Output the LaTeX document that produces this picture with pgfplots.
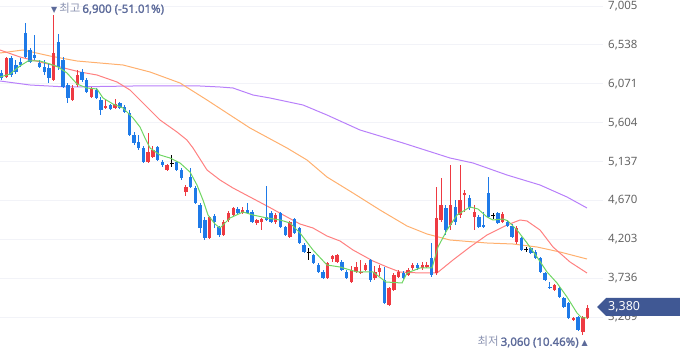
\documentclass[border=0pt]{standalone}
\usepackage{fontspec}
\setmainfont{Noto Sans}
\newfontfamily\kr{Noto Sans CJK KR}
\newfontfamily\bnum{Noto Sans}[FakeBold=1.6]
\newfontfamily\sym{DejaVu Sans}
\usepackage{pgfplots}
\usepackage{pgfplotstable}
\pgfplotsset{compat=1.18}
\definecolor{cred}{RGB}{238,58,66}
\definecolor{cblue}{RGB}{30,122,232}
\definecolor{ma5}{RGB}{112,214,100}
\definecolor{ma20}{RGB}{255,128,128}
\definecolor{ma60}{RGB}{255,176,110}
\definecolor{ma120}{RGB}{184,128,250}
\definecolor{gridc}{RGB}{242,243,248}
\definecolor{tickc}{RGB}{100,100,100}
\definecolor{navy}{RGB}{64,88,148}
\definecolor{lblc}{RGB}{92,106,154}
\definecolor{lblc2}{RGB}{140,148,178}

\pgfplotstableread{
i o h l c
0 6201 6237 6117 6141
1 6153 6393 6141 6381
2 6381 6405 6153 6177
3 6297 6357 6189 6213
4 6333 6381 6273 6297
5 6681 6801 6381 6393
6 6477 6501 6321 6333
7 6417 6657 6357 6381
8 6321 6357 6261 6273
9 6273 6357 6177 6213
10 6261 6321 6081 6141
11 6117 6900 6110 6441
12 6573 6669 6237 6273
13 6357 6393 6021 6033
14 6057 6081 5841 5901
15 5877 6057 5865 6021
16 6057 6237 6033 6177
17 6213 6249 6093 6117
18 6117 6141 5961 5973
19 5913 6033 5901 6021
20 5997 6021 5889 5901
21 5877 5913 5697 5757
22 5781 5877 5769 5805
23 5817 5829 5757 5769
24 5781 5889 5769 5829
25 5841 5853 5769 5781
26 5793 5817 5721 5733
27 5721 5757 5445 5457
28 5457 5493 5337 5361
29 5373 5457 5277 5301
30 5301 5325 5121 5133
31 5133 5481 5121 5253
32 5193 5325 5181 5277
33 5313 5325 5145 5157
34 5133 5157 5073 5097
35 5037 5109 5025 5097
36 5115 5217 5073 5115
37 5133 5145 5025 5037
38 5037 5061 4917 4941
39 4773 4857 4725 4833
40 4953 5061 4821 4833
41 4821 4845 4629 4641
42 4617 4641 4281 4341
43 4437 4473 4197 4221
44 4221 4485 4209 4473
45 4485 4509 4341 4413
46 4353 4365 4233 4257
47 4257 4437 4245 4413
48 4437 4545 4413 4521
49 4497 4593 4485 4581
50 4569 4593 4509 4521
51 4521 4593 4509 4557
52 4557 4641 4509 4521
53 4533 4557 4401 4413
54 4401 4449 4377 4437
55 4413 4461 4317 4449
56 4473 4845 4425 4437
57 4521 4545 4401 4413
58 4413 4521 4389 4497
59 4521 4533 4341 4353
60 4353 4365 4245 4257
61 4233 4425 4221 4413
62 4449 4461 4269 4281
63 4341 4353 4149 4161
64 4137 4161 4041 4053
65 4050 4101 3957 4050
66 4017 4029 3909 3921
67 3897 3921 3801 3813
68 3813 3837 3729 3741
69 3741 3933 3729 3921
70 3969 4017 3933 4005
71 3933 4029 3921 4017
72 3933 3957 3825 3837
73 3813 3837 3729 3741
74 3693 3885 3681 3837
75 3813 3933 3801 3873
76 3801 3957 3789 3813
77 3837 3921 3825 3897
78 3957 3969 3693 3717
79 3741 3885 3717 3813
80 3813 3897 3765 3861
81 3717 3873 3429 3441
82 3417 3633 3405 3621
83 3597 3801 3585 3777
84 3753 3837 3741 3813
85 3801 3825 3729 3741
86 3777 3861 3765 3837
87 3861 3921 3837 3897
88 3897 3921 3837 3861
89 3861 3933 3837 3897
90 3873 3933 3861 3897
91 3981 4161 3753 3777
92 3801 4833 3777 4461
93 4437 4941 4413 4617
94 4581 4617 4257 4317
95 4377 5097 4317 4617
96 4593 4677 4377 4413
97 4497 5097 4461 4677
98 4737 4797 4533 4761
99 4701 4737 4557 4581
100 4473 4617 4317 4533
101 4473 4497 4341 4353
102 4377 4533 4341 4353
103 4761 4953 4461 4473
104 4490 4521 4449 4490
105 4521 4533 4389 4401
106 4413 4533 4401 4509
107 4413 4437 4353 4365
108 4365 4389 4221 4233
109 4173 4365 4149 4341
110 4221 4233 4065 4077
111 4083 4113 4053 4083
112 4101 4113 4029 4041
113 4053 4077 3969 3981
114 3981 3993 3801 3813
115 3801 3813 3705 3717
116 3633 3693 3609 3621
117 3597 3669 3585 3657
118 3621 3633 3501 3513
119 3501 3513 3381 3393
120 3441 3453 3249 3261
121 3237 3273 3225 3261
122 3273 3285 3105 3117
123 3093 3285 3060 3273
124 3261 3417 3249 3380
}\candles

\begin{document}
\begin{tikzpicture}
\path[use as bounding box] (0,0) rectangle (680bp,358bp);
\begin{axis}[
  at={(0,0)}, anchor=south west, scale only axis,
  width=603bp, height=358bp,
  xmin=-0.36, xmax=127.26, ymin=2781, ymax=7077,
  axis line style={draw=none},
  major tick length=0pt,
  xtick=\empty,
  ytick={3269,3736,4203,4670,5137,5604,6071,6538,7005},
  yticklabel pos=right,
  ymajorgrids,
  grid style={draw=gridc, line width=0.9bp},
  scaled y ticks=false,
  yticklabel style={font=\fontsize{11.5}{13}\selectfont, text=tickc, anchor=west, inner sep=0pt, xshift=5bp,
    /pgf/number format/1000 sep={,}, /pgf/number format/assume math mode=true},
]
% moving averages
\addplot[ma120, line width=1bp] coordinates {(-0.36,6105) (5.99,6057) (13.82,6033) (27.79,6045) (41.97,6045) (46.2,6033) (48.95,6021) (53.19,5937) (56.78,5901) (63.77,5817) (68.84,5697) (75.83,5517) (84.93,5361) (94.88,5181) (99.75,5121) (106.94,4977) (113.93,4857) (119.64,4713) (123.87,4581)};
\addplot[ma60, line width=1bp] coordinates {(-0.36,6441) (4.51,6477) (10.22,6405) (15.94,6345) (20.8,6321) (25.67,6297) (31.39,6213) (37.74,6081) (43.45,5877) (48.32,5697) (52.55,5541) (60.38,5301) (64.61,5157) (68.84,4953) (74.35,4761) (80.06,4557) (85.78,4365) (90.01,4269) (94.88,4197) (102.71,4161) (108.21,4149) (113.29,4113) (118.16,4053) (123.87,3969)};
\addplot[ma20, line width=1bp] coordinates {(-0.36,6477) (3.87,6393) (8.11,6333) (12.34,6273) (16.57,6213) (20.17,6177) (24.4,6093) (27.15,5997) (29.9,5841) (33.5,5637) (37.1,5493) (39.2,5397) (40.49,5301) (43.45,5037) (46.2,4917) (48.95,4821) (52.55,4713) (56.15,4605) (60.38,4473) (63.13,4389) (65.88,4341) (68.84,4245) (71.6,4185) (74.35,4077) (78.58,3945) (81.55,3873) (84.3,3813) (88.53,3801) (92.13,3801) (95.51,3957) (99.11,4113) (102.71,4257) (106.94,4377) (109.7,4437) (111.18,4425) (113.93,4317) (116.68,4113) (120.28,3933) (123.87,3801)};
% candles: wicks
\addplot[draw=none, mark=none, forget plot,
  restrict expr to domain={\thisrow{c}-\thisrow{o}}{1:100000},
  error bars/.cd, y dir=plus, y explicit, error mark=none,
  error bar style={line width=1bp, draw=cred}]
  table[x=i, y=l, y error plus expr=\thisrow{h}-\thisrow{l}] {\candles};
\addplot[draw=none, mark=none, forget plot,
  restrict expr to domain={\thisrow{c}-\thisrow{o}}{-100000:-1},
  error bars/.cd, y dir=plus, y explicit, error mark=none,
  error bar style={line width=1bp, draw=cblue}]
  table[x=i, y=l, y error plus expr=\thisrow{h}-\thisrow{l}] {\candles};
\addplot[draw=none, mark=none, forget plot,
  restrict expr to domain={\thisrow{c}-\thisrow{o}}{-0.5:0.5},
  error bars/.cd, y dir=plus, y explicit, error mark=none,
  error bar style={line width=1bp, draw=black}]
  table[x=i, y=l, y error plus expr=\thisrow{h}-\thisrow{l}] {\candles};
% candles: bodies
\addplot[draw=none, mark=none, forget plot,
  restrict expr to domain={\thisrow{c}-\thisrow{o}}{1:100000},
  error bars/.cd, y dir=plus, y explicit, error mark=none,
  error bar style={line width=3.4bp, draw=cred}]
  table[x=i, y=o, y error plus expr=\thisrow{c}-\thisrow{o}] {\candles};
\addplot[draw=none, mark=none, forget plot,
  restrict expr to domain={\thisrow{c}-\thisrow{o}}{-100000:-1},
  error bars/.cd, y dir=plus, y explicit, error mark=none,
  error bar style={line width=3.4bp, draw=cblue}]
  table[x=i, y=c, y error plus expr=\thisrow{o}-\thisrow{c}] {\candles};
\addplot[draw=none, mark=none, forget plot,
  restrict expr to domain={\thisrow{c}-\thisrow{o}}{-0.5:0.5},
  error bars/.cd, y dir=plus, y explicit, error mark=none,
  error bar style={line width=3.4bp, draw=black}]
  table[x=i, y expr=\thisrow{o}-8, y error plus expr=16] {\candles};
% MA5
\addplot[ma5, line width=1bp] coordinates {(-0.36,6153) (1.76,6189) (3.87,6285) (5.57,6345) (8.11,6345) (10.22,6309) (11.92,6273) (13.82,6201) (15.94,6069) (18.05,6021) (20.17,6009) (21.44,5901) (23.56,5829) (25.67,5781) (27.79,5661) (29.27,5553) (30.33,5421) (31.39,5301) (33.5,5217) (35.62,5181) (37.74,5121) (39.85,5013) (41.33,4857) (42.6,4677) (43.66,4497) (45.14,4389) (46.2,4341) (48.32,4461) (51.07,4533) (53.19,4497) (56.15,4461) (58.9,4437) (61.02,4401) (63.13,4281) (65.88,4077) (68.84,3897) (71.6,3873) (75.2,3813) (78.58,3813) (81.33,3693) (84.72,3681) (85.78,3801) (88.53,3861) (91.07,3861) (92.34,4113) (94.24,4317) (96.36,4497) (99.11,4593) (100.8,4569) (102.71,4473) (103.98,4437) (106.1,4449) (107.16,4425) (109.06,4317) (111.18,4161) (113.29,3993) (115.41,3813) (117.53,3681) (119.64,3513) (121.76,3321) (122.82,3261) (123.87,3261)};
\end{axis}
% annotations
\node[anchor=west, inner sep=0pt, text=lblc, font=\fontsize{11.5}{13}\selectfont] at (51bp,349bp)
  {{\sym\fontsize{8}{10}\selectfont ▼}\hspace{2bp}{\kr\color{lblc2}최고}\hspace{2bp}{\bnum 6,900 (-51.01\%)}};
\node[anchor=east, inner sep=0pt, text=lblc, font=\fontsize{11.5}{13}\selectfont] at (588bp,16bp)
  {{\kr\color{lblc2}최저}\hspace{2bp}{\bnum 3,060 (10.46\%)}\hspace{3bp}{\sym\fontsize{8}{10}\selectfont ▲}};
\fill[navy] (597bp,51bp) -- (606bp,60bp) -- (680bp,60bp) -- (680bp,42bp) -- (606bp,42bp) -- cycle;
\node[anchor=west, inner sep=0pt, text=white, font=\fontsize{12.5}{14}\selectfont] at (608bp,51bp) {3,380};
\end{tikzpicture}
\end{document}
